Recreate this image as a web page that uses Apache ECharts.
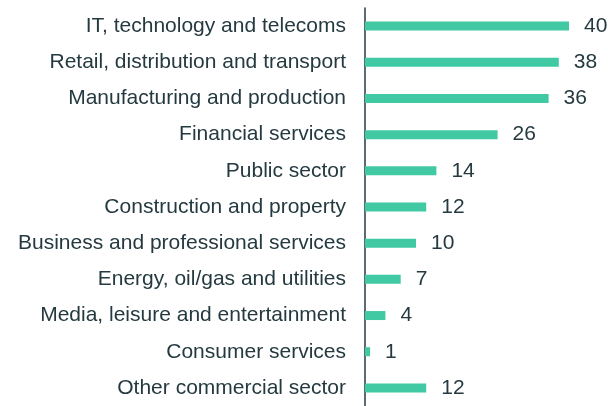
<!DOCTYPE html>
<html>
<head>
<meta charset="utf-8">
<script src="https://cdn.jsdelivr.net/npm/echarts@6/dist/echarts.min.js"></script>
<style>
  html, body { margin: 0; padding: 0; background: #fff; }
  #chart { width: 608px; height: 406px; }
</style>
</head>
<body>
<div id="chart"></div>
<script>
// categories top to bottom
const categories = [
  'IT, technology and telecoms',
  'Retail, distribution and transport',
  'Manufacturing and production',
  'Financial services',
  'Public sector',
  'Construction and property',
  'Business and professional services',
  'Energy, oil/gas and utilities',
  'Media, leisure and entertainment',
  'Consumer services',
  'Other commercial sector'
]
const values = [40, 38, 36, 26, 14, 12, 10, 7, 4, 1, 12]

const textColor = '#253a40'
const chart = echarts.init(document.getElementById('chart'))
chart.setOption({
  animation: false,
  grid: {
    left: 365,
    top: 8,
    height: 402,
    width: 229.5
  },
  xAxis: {
    type: 'value',
    min: 0,
    max: 45,
    show: false
  },
  yAxis: {
    type: 'category',
    inverse: true,
    data: categories,
    axisLine: { show: true, lineStyle: { color: '#253a40', width: 1.5 } },
    axisTick: { show: false },
    axisLabel: {
      color: textColor,
      fontFamily: 'Liberation Sans',
      fontSize: 21,
      margin: 19
    }
  },
  series: [{
    type: 'bar',
    data: values,
    barWidth: 9,
    itemStyle: { color: '#41c9a3' },
    label: {
      show: true,
      position: 'right',
      distance: 15,
      color: textColor,
      fontFamily: 'Liberation Sans',
      fontSize: 21
    }
  }]
})
</script>
</body>
</html>
